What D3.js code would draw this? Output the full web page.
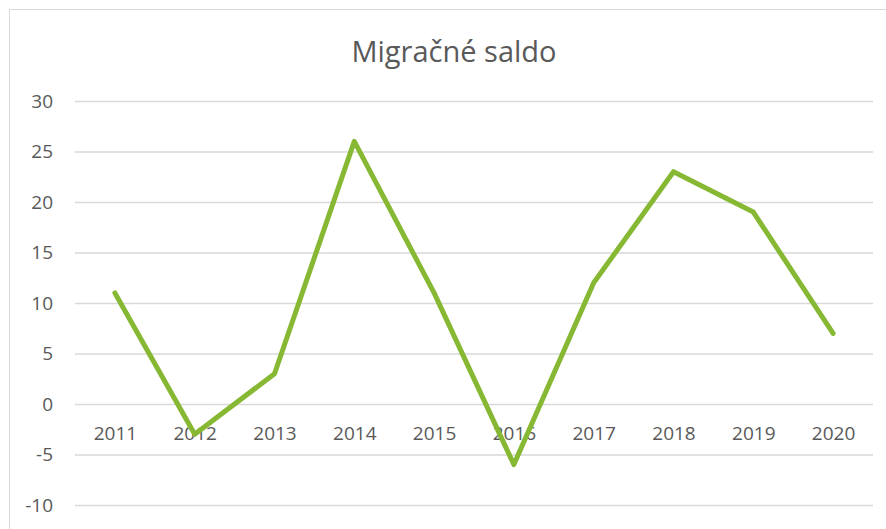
<!DOCTYPE html>
<meta charset="utf-8">
<script src="https://d3js.org/d3.v7.min.js"></script>
<head>
  <style>
  body {
    margin: 0;
    background: #fff;
    font-family: "Open Sans", "Liberation Sans", Arial, sans-serif;
  }
  </style>
</head>
<html><body>
<div id="my_dataviz"></div>

<script>

// data
const years = ["2011", "2012", "2013", "2014", "2015", "2016", "2017", "2018", "2019", "2020"];
const saldo = [11, -3, 3, 26, 11, -6, 12, 23, 19, 7];
const yTicks = [-10, -5, 0, 5, 10, 15, 20, 25, 30];
const title = "Migračné saldo";

const W = 886, H = 529;
const margin = {top: 101, right: 13, bottom: 24, left: 75},
    width = W - margin.left - margin.right,
    height = H - margin.top - margin.bottom;

const root = d3.select("#my_dataviz")
  .append("svg")
    .attr("width", W)
    .attr("height", H);

// chart frame
root.append("rect")
  .attr("x", 9.5).attr("y", 9.5)
  .attr("width", W + 20).attr("height", H + 20)
  .attr("fill", "none")
  .attr("stroke", "#d9d9d9")
  .attr("stroke-width", 1);

root.append("text")
  .attr("x", 454)
  .attr("y", 62)
  .attr("text-anchor", "middle")
  .attr("fill", "#595959")
  .attr("font-size", "29px")
  .text(title);

const svg = root.append("g")
  .attr("transform", `translate(${margin.left}, ${margin.top})`);

const x = d3.scalePoint()
  .domain(years)
  .range([0, width])
  .padding(0.5);

const y = d3.scaleLinear()
  .domain([-10, 30])
  .range([404, 0]);

// gridlines + y labels (plain hyphen for negatives, like the original)
const yAxis = svg.append("g")
  .call(d3.axisLeft(y)
    .tickValues(yTicks)
    .tickFormat(function(d) { return String(d); })
    .tickSize(-width)
    .tickPadding(22))
yAxis.select(".domain").remove();
yAxis.selectAll(".tick line")
  .attr("stroke", "#d9d9d9")
  .attr("stroke-width", 1.3);
yAxis.selectAll(".tick text")
  .attr("fill", "#595959")
  .attr("font-size", "19px")
  .attr("font-family", "Open Sans, Liberation Sans, sans-serif");

// category labels sit just under the zero line
const xAxis = svg.append("g")
  .attr("transform", `translate(0, ${y(0)})`)
  .call(d3.axisBottom(x).tickSize(0).tickPadding(23));
xAxis.select(".domain").remove();
xAxis.selectAll(".tick text")
  .attr("fill", "#595959")
  .attr("font-size", "19px")
  .attr("font-family", "Open Sans, Liberation Sans, sans-serif");

svg.append("path")
  .datum(saldo)
  .attr("fill", "none")
  .attr("stroke", "#86b833")
  .attr("stroke-width", 5)
  .attr("stroke-linecap", "round")
  .attr("stroke-linejoin", "round")
  .attr("d", d3.line()
    .x(function(d, i) { return x(years[i]) })
    .y(function(d) { return y(d) })
  );

</script>
</body></html>
